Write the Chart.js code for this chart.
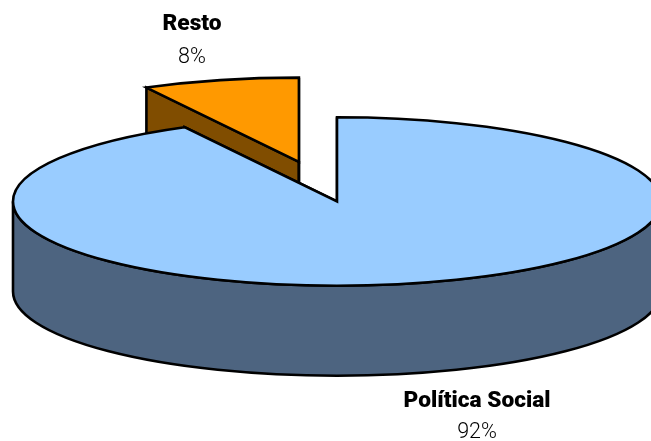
<!DOCTYPE html>
<html>
<head>
<meta charset="utf-8">
<title>Política Social</title>
<script src="https://cdn.jsdelivr.net/npm/chart.js@4"></script>
<style>
html,body{margin:0;padding:0;background:#fff;overflow:hidden}
canvas{display:block}
</style>
</head>
<body>
<canvas id="pie" width="651" height="441"></canvas>
<script>
const categories = ['Política Social', 'Resto'];
const shares = [92.2, 7.8];
const topColors = ['#99ccff', '#ff9900'];
const sideColors = ['#4d6480', '#804d00'];

const RADIUS = 324;
const FLATTEN = 0.26;   // y squash of the disc
const DEPTH = 90;
const EXPLODE = [0, 157];
const labelSpots = [{x:477, y:401, py:433}, {x:192, y:24, py:58}];

function tracePie(ctx, arc, ox, oy){
  ctx.beginPath();
  ctx.moveTo(arc.x+ox, arc.y+oy);
  ctx.ellipse(arc.x+ox, arc.y+oy, arc.outerRadius, arc.outerRadius*FLATTEN, 0, arc.startAngle, arc.endAngle);
  ctx.closePath();
}

function edgeWall(ctx, arc, angle, ox, oy, color){
  const x = arc.x+ox, y = arc.y+oy;
  const ex = x+Math.cos(angle)*arc.outerRadius, ey = y+Math.sin(angle)*arc.outerRadius*FLATTEN;
  ctx.beginPath();
  ctx.moveTo(x, y);
  ctx.lineTo(ex, ey);
  ctx.lineTo(ex, ey+DEPTH);
  ctx.lineTo(x, y+DEPTH);
  ctx.closePath();
  ctx.fillStyle = color;
  ctx.fill();
  ctx.stroke();
}

// outer rim, only the part that faces the viewer
function rimWall(ctx, arc, ox, oy, color){
  const x = arc.x+ox, y = arc.y+oy, r = arc.outerRadius, ry = r*FLATTEN;
  const spans = [[arc.startAngle, arc.endAngle], [arc.startAngle-2*Math.PI, arc.endAngle-2*Math.PI]];
  spans.forEach(s=>{
    const a0 = Math.max(s[0], 0), a1 = Math.min(s[1], Math.PI);
    if(a1<=a0) return;
    ctx.beginPath();
    ctx.ellipse(x, y, r, ry, 0, a0, a1);
    ctx.ellipse(x, y+DEPTH, r, ry, 0, a1, a0, true);
    ctx.closePath();
    ctx.fillStyle = color;
    ctx.fill();
    ctx.stroke();
  });
}

const disc3d = {
  id:'disc3d',
  beforeDatasetsDraw(chart){
    const ctx = chart.ctx;
    const arcs = chart.getDatasetMeta(0).data;
    ctx.save();
    ctx.lineWidth = 2.6;
    ctx.strokeStyle = '#000';
    ctx.lineJoin = 'miter';
    // pushed out slices sit behind the main body
    const order = arcs.map((a,i)=>i).sort((a,b)=>EXPLODE[b]-EXPLODE[a]);
    order.forEach(i=>{
      const arc = arcs[i];
      const mid = (arc.startAngle+arc.endAngle)/2;
      const ox = Math.cos(mid)*EXPLODE[i], oy = Math.sin(mid)*EXPLODE[i]*FLATTEN;
      edgeWall(ctx, arc, arc.startAngle, ox, oy, sideColors[i]);
      edgeWall(ctx, arc, arc.endAngle, ox, oy, sideColors[i]);
      rimWall(ctx, arc, ox, oy, sideColors[i]);
      ctx.save();
      ctx.translate(arc.x+ox, arc.y+oy);
      ctx.scale(1, FLATTEN);
      ctx.translate(-arc.x, -arc.y);
      arc.draw(ctx);
      ctx.restore();
      tracePie(ctx, arc, ox, oy);
      ctx.stroke();
    });
    ctx.restore();
    return false;
  },
  afterDraw(chart){
    const ctx = chart.ctx;
    ctx.save();
    ctx.textAlign = 'center';
    ctx.textBaseline = 'middle';
    ctx.fillStyle = '#000';
    categories.forEach((name,i)=>{
      ctx.font = '900 22.7px Roboto';
      ctx.fillText(name, labelSpots[i].x, labelSpots[i].y);
      ctx.font = '300 21.5px Roboto';
      ctx.fillText(Math.round(shares[i])+'%', labelSpots[i].x, labelSpots[i].py);
    });
    ctx.restore();
  }
};

new Chart(document.getElementById('pie'), {
  type:'pie',
  data:{labels:categories, datasets:[{data:shares, backgroundColor:topColors, borderWidth:0}]},
  options:{
    responsive:false,
    animation:false,
    radius:RADIUS,
    layout:{padding:{left:23, right:0, top:0, bottom:38}},
    plugins:{legend:{display:false}, tooltip:{enabled:false}}
  },
  plugins:[disc3d]
});
</script>
</body>
</html>
